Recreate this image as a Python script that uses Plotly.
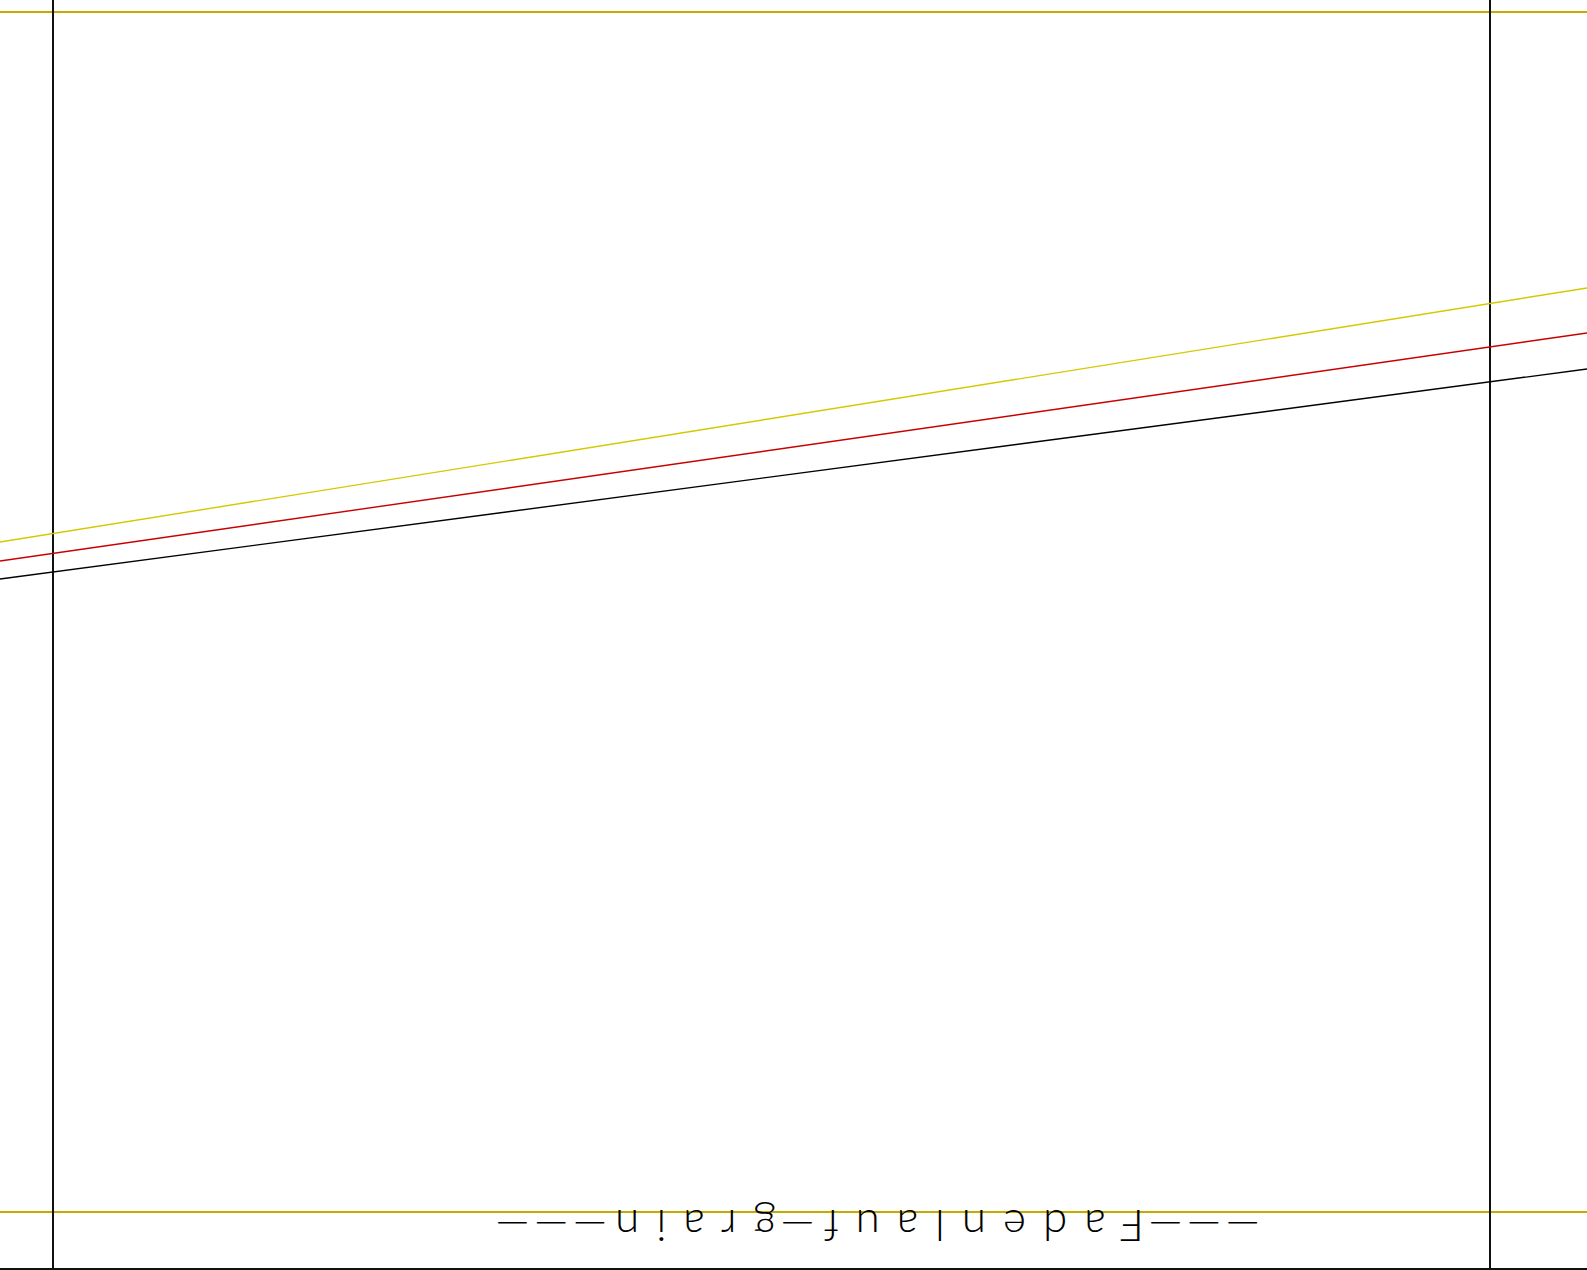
import plotly.graph_objects as go

# ---- data (page coordinates, px; y grows downward) ----
page_w = 1587
page_h = 1270
guide_y = [12, 1212]            # yellow horizontal guide lines
frame_x = [53, 1490]            # vertical black lines
bottom_y = [1269]               # bottom black edge
slant_names = ["yellow", "red", "black"]
slant_left_y = [542, 561, 579]  # y at x = 0
slant_right_y = [288, 333, 369] # y at x = page_w
slant_colors = ["#D6C800", "#C80000", "#000000"]
label_dash = "\u2014\u2014\u2014"
label_mid = "Fadenlauf"
label_sep = "\u2014"
label_end = "grain"

fig = go.Figure()

for y in guide_y:
    fig.add_trace(go.Scatter(x=[0, page_w], y=[y, y], mode="lines",
                             line=dict(color="#C2AC00", width=2),
                             hoverinfo="skip", showlegend=False))
for y in bottom_y:
    fig.add_trace(go.Scatter(x=[0, page_w], y=[y, y], mode="lines",
                             line=dict(color="#111111", width=2),
                             hoverinfo="skip", showlegend=False))
for x in frame_x:
    fig.add_trace(go.Scatter(x=[x, x], y=[0, page_h], mode="lines",
                             line=dict(color="#111111", width=2),
                             hoverinfo="skip", showlegend=False))
for name, yl, yr, c in zip(slant_names, slant_left_y, slant_right_y, slant_colors):
    fig.add_trace(go.Scatter(x=[0, page_w], y=[yl, yr], mode="lines", name=name,
                             line=dict(color=c, width=1.4),
                             hoverinfo="skip", showlegend=False))


def spaced(s, wide, tail):
    return ('<span style="letter-spacing:%spx">%s</span>' % (wide, s[:-1])
            + '<span style="letter-spacing:%spx">%s</span>' % (tail, s[-1]))


dash_span = '<span style="letter-spacing:4px">%s</span>'
label_html = (dash_span % label_dash) + spaced(label_mid, 17, 9) + (dash_span % label_sep) \
    + spaced(label_end, 17, 8) + (dash_span % label_dash)

fig.add_annotation(x=876, y=1227, xref="x", yref="y", text=label_html,
                   showarrow=False, textangle=180,
                   font=dict(family="Lato", size=44, color="#000000", weight=300))

fig.update_xaxes(range=[0, page_w], visible=False, fixedrange=True)
fig.update_yaxes(range=[page_h, 0], visible=False, fixedrange=True)
fig.update_layout(width=page_w, height=page_h,
                  margin=dict(l=0, r=0, t=0, b=0),
                  paper_bgcolor="white", plot_bgcolor="white")

fig.write_html("out.html", config={"displayModeBar": False},
               post_script="document.body.style.margin='0';document.body.style.overflow='hidden';")
